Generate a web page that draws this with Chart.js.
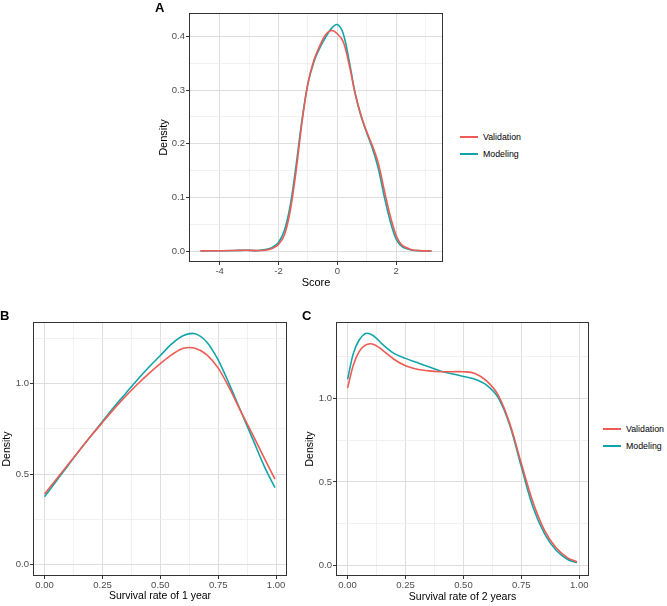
<!DOCTYPE html>
<html>
<head>
<meta charset="utf-8">
<script src="https://cdn.jsdelivr.net/npm/chart.js@4/dist/chart.umd.min.js"></script>
<style>
  body { margin: 0; background: #fff; font-family: 'Liberation Sans', Arial, sans-serif; }
  #wrap { position: relative; width: 667px; height: 606px; overflow: hidden; }
  canvas { position: absolute; }
  .tag { position: absolute; font-weight: bold; font-size: 13px; color: #000; line-height: 1; }
  .key { position: absolute; font-size: 8.8px; color: #000; line-height: 1; }
  .key .sw { position: absolute; height: 2px; }
</style>
</head>
<body>
<div id="wrap">
  <canvas id="chartA" width="300" height="290" style="left:150px;top:0px"></canvas>
  <canvas id="chartB" width="300" height="316" style="left:0px;top:290px"></canvas>
  <canvas id="chartC" width="290" height="316" style="left:300px;top:290px"></canvas>
  <div class="tag" style="left:155px;top:1px">A</div>
  <div class="tag" style="left:0px;top:309px">B</div>
  <div class="tag" style="left:302px;top:309px">C</div>
  <div id="legendA"></div>
  <div id="legendC"></div>
</div>
<script>
const seriesNames = ['Validation', 'Modeling']
const seriesColors = ['#EE5B53', '#12A4A9']

// panel A: density of score
const scoreX = [-4.65, -4.0, -3.5, -3.1, -2.7, -2.4, -2.2, -2.0, -1.8, -1.6, -1.4, -1.2, -1.0, -0.8, -0.6, -0.4, -0.2, 0, 0.2, 0.4, 0.6, 0.8, 1.0, 1.2, 1.4, 1.6, 1.8, 2.0, 2.2, 2.5, 2.8, 3.2]
const scoreValidation = [0.0003, 0.0005, 0.0008, 0.0015, 0.0008, 0.002, 0.005, 0.012, 0.030, 0.075, 0.150, 0.240, 0.312, 0.355, 0.382, 0.403, 0.411, 0.405, 0.390, 0.348, 0.295, 0.254, 0.222, 0.195, 0.162, 0.112, 0.065, 0.029, 0.011, 0.003, 0.0007, 0.0001]
const scoreModeling = [0.0003, 0.0005, 0.0008, 0.0015, 0.0008, 0.003, 0.007, 0.016, 0.038, 0.085, 0.160, 0.245, 0.312, 0.352, 0.378, 0.398, 0.415, 0.422, 0.405, 0.355, 0.295, 0.252, 0.220, 0.190, 0.152, 0.100, 0.055, 0.022, 0.008, 0.002, 0.0005, 0.0001]

// panel B: survival rate of 1 year
const surv1X = [0, 0.05, 0.1, 0.15, 0.2, 0.25, 0.3, 0.35, 0.4, 0.45, 0.5, 0.55, 0.6, 0.65, 0.7, 0.75, 0.8, 0.85, 0.9, 0.95, 0.995]
const surv1Validation = [0.39, 0.47, 0.55, 0.63, 0.71, 0.785, 0.86, 0.93, 0.995, 1.055, 1.11, 1.16, 1.195, 1.195, 1.16, 1.085, 0.97, 0.84, 0.715, 0.585, 0.472]
const surv1Modeling = [0.375, 0.46, 0.545, 0.63, 0.71, 0.79, 0.87, 0.945, 1.02, 1.09, 1.155, 1.22, 1.265, 1.275, 1.23, 1.13, 0.99, 0.84, 0.69, 0.54, 0.425]

// panel C: survival rate of 2 years
const surv2X = [0, 0.025, 0.05, 0.075, 0.1, 0.125, 0.15, 0.2, 0.25, 0.3, 0.35, 0.4, 0.45, 0.5, 0.55, 0.6, 0.65, 0.7, 0.75, 0.8, 0.85, 0.9, 0.95, 0.99]
const surv2Validation = [1.062, 1.2, 1.28, 1.318, 1.328, 1.315, 1.29, 1.235, 1.196, 1.175, 1.165, 1.16, 1.16, 1.16, 1.15, 1.105, 1.02, 0.85, 0.61, 0.38, 0.21, 0.105, 0.045, 0.022]
const surv2Modeling = [1.115, 1.27, 1.35, 1.388, 1.385, 1.36, 1.325, 1.27, 1.24, 1.215, 1.19, 1.165, 1.148, 1.132, 1.115, 1.08, 1.005, 0.84, 0.59, 0.35, 0.19, 0.09, 0.035, 0.016]

// axis breaks
const scoreXMajor = [-4, -2, 0, 2]
const scoreXMinor = [-3, -1, 1, 3]
const scoreYMajor = [0, 0.1, 0.2, 0.3, 0.4]
const scoreYMinor = [0.05, 0.15, 0.25, 0.35]
const survXMajor = [0, 0.25, 0.5, 0.75, 1]
const survXMinor = [0.125, 0.375, 0.625, 0.875]
const survYMajor = [0, 0.5, 1]
const survYMinor = [0.25, 0.75, 1.25]

const FONT = "'Liberation Sans', Arial, sans-serif"

const boxPlugin = {
  id: 'panelBox',
  afterDraw: (chart) => {
    const { ctx, chartArea: a } = chart
    ctx.save()
    ctx.strokeStyle = '#333'
    ctx.lineWidth = 1
    ctx.strokeRect(Math.round(a.left) + 0.5, Math.round(a.top) + 0.5, Math.round(a.right - a.left) - 1, Math.round(a.bottom - a.top) - 1)
    ctx.restore()
  },
}

const makeAxis = (o) => ({
  type: 'linear',
  min: o.min,
  max: o.max,
  afterBuildTicks: (s) => { s.ticks = o.major.concat(o.minor).sort((a, b) => a - b).map(v => ({ value: v })) },
  afterFit: (s) => { if (o.width) s.width = o.width; if (o.height) s.height = o.height },
  border: { display: false },
  grid: {
    color: c => o.major.includes(c.tick.value) ? '#DEDEDE' : '#EDEDED',
    lineWidth: c => o.major.includes(c.tick.value) ? 1 : 0.8,
    tickColor: c => o.major.includes(c.tick.value) ? '#333' : 'rgba(0,0,0,0)',
    tickLength: 3,
    tickWidth: 1,
  },
  ticks: {
    autoSkip: false,
    maxRotation: 0,
    padding: o.tickPad,
    color: '#4D4D4D',
    font: { family: FONT, size: o.tickSize },
    callback: v => o.major.includes(v) ? (o.fmt ? o.fmt(v) : String(v)) : '',
  },
  title: {
    display: true,
    text: o.title,
    color: '#000',
    font: { family: FONT, size: o.titleSize, lineHeight: 1.2 },
    padding: o.titlePad,
  },
})

const drawPanel = (id, xs, ys, opts) => {
  const datasets = ys.map((y, i) => ({
    label: seriesNames[i],
    data: xs.map((x, j) => ({ x, y: y[j] })),
    borderColor: seriesColors[i],
    borderWidth: 1.6,
    pointRadius: 0,
    tension: 0.35,
    fill: false,
  }))
  new Chart(document.getElementById(id), {
    type: 'line',
    data: { datasets },
    options: {
      responsive: false,
      animation: false,
      layout: { padding: opts.padding },
      plugins: { legend: { display: false }, tooltip: { enabled: false } },
      scales: { x: makeAxis(opts.x), y: makeAxis(opts.y) },
    },
    plugins: [boxPlugin],
  })
}

const drawLegend = (id, left, top) => {
  const box = document.getElementById(id)
  seriesNames.forEach((name, i) => {
    const row = document.createElement('div')
    row.className = 'key'
    row.style.left = left + 'px'
    row.style.top = (top + i * 17) + 'px'
    row.innerHTML = `<span class="sw" style="left:0;top:3px;width:18px;background:${seriesColors[i]}"></span><span style="position:absolute;left:23px;top:0;white-space:nowrap">${name}</span>`
    box.appendChild(row)
  })
}

drawPanel('chartA', scoreX, [scoreValidation, scoreModeling], {
  padding: { left: 0, right: 7, top: 13, bottom: 0 },
  x: { min: -5.04, max: 3.59, major: scoreXMajor, minor: scoreXMinor, height: 28, tickPad: 1, tickSize: 9.5,
       title: 'Score', titleSize: 11, titlePad: { top: 0, bottom: 0 } },
  y: { min: -0.0205, max: 0.4436, major: scoreYMajor, minor: scoreYMinor, width: 39, tickPad: 1, tickSize: 9.5,
       fmt: v => v.toFixed(1), title: 'Density', titleSize: 11, titlePad: { top: 7, bottom: 0 } },
})

drawPanel('chartB', surv1X, [surv1Validation, surv1Modeling], {
  padding: { left: 0, right: 13, top: 32, bottom: 0 },
  x: { min: -0.05, max: 1.047, major: survXMajor, minor: survXMinor, height: 30, tickPad: 1, tickSize: 9.5,
       fmt: v => v.toFixed(2), title: 'Survival rate of 1 year', titleSize: 10.5, titlePad: { top: 0, bottom: 4 } },
  y: { min: -0.063, max: 1.34, major: survYMajor, minor: survYMinor, width: 33, tickPad: 1, tickSize: 9.5,
       fmt: v => v.toFixed(1), title: 'Density', titleSize: 10.5, titlePad: { top: 1, bottom: 0 } },
})

drawPanel('chartC', surv2X, [surv2Validation, surv2Modeling], {
  padding: { left: 0, right: 1, top: 32, bottom: 0 },
  x: { min: -0.05, max: 1.042, major: survXMajor, minor: survXMinor, height: 30, tickPad: 1, tickSize: 9.5,
       fmt: v => v.toFixed(2), title: 'Survival rate of 2 years', titleSize: 10.5, titlePad: { top: 0, bottom: 3 } },
  y: { min: -0.064, max: 1.458, major: survYMajor, minor: survYMinor, width: 36, tickPad: 1, tickSize: 9.5,
       fmt: v => v.toFixed(1), title: 'Density', titleSize: 10.5, titlePad: { top: 4, bottom: 0 } },
})

drawLegend('legendA', 460, 133)
drawLegend('legendC', 603, 425)
</script>
</body>
</html>
